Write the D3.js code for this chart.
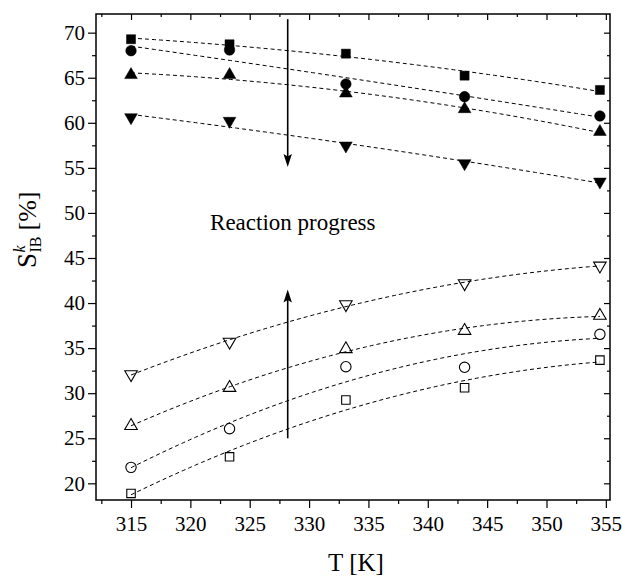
<!DOCTYPE html>
<html>
<head>
<meta charset="utf-8">
<script src="https://cdn.jsdelivr.net/npm/d3@7"></script>
<style>
  html, body { margin: 0; padding: 0; background: #fff; }
  svg { display: block; }
  text { font-family: "Liberation Serif", "Times New Roman", serif; fill: #000; }
</style>
</head>
<body>
<svg id="chart" width="622" height="578"></svg>
<script>
// Temperatures (K)
const temps = [315, 323.3, 333.1, 343.1, 354.5];

// Selectivity S_IB^k (%) — filled symbols (decreasing with T)
const sqFilled = [69.27, 68.71, 67.67, 65.23, 63.64];
const ciFilled = [68.0, 68.08, 64.31, 62.9, 60.76];
const upFilled = [65.31, 65.31, 63.27, 61.53, 59.0];
const dnFilled = [60.6, 60.2, 57.46, 55.5, 53.46];

// Open symbols (increasing with T)
const dnOpen = [32.09, 35.7, 39.86, 42.19, 44.14];
const upOpen = [26.38, 30.6, 34.9, 36.93, 38.6];
const ciOpen = [21.77, 26.06, 32.94, 32.87, 36.53];
const sqOpen = [18.88, 22.94, 29.24, 30.6, 33.67];

// Axis ticks
const xTicks = [315, 320, 325, 330, 335, 340, 345, 350, 355];
const xMinor = [312.5, 317.5, 322.5, 327.5, 332.5, 337.5, 342.5, 347.5, 352.5];
const yTicks = [20, 25, 30, 35, 40, 45, 50, 55, 60, 65, 70];
const yMinor = [22.5, 27.5, 32.5, 37.5, 42.5, 47.5, 52.5, 57.5, 62.5, 67.5];

// Annotation arrows: [T, from, to]
const arrowDown = [328.2, 71.5, 55.1];
const arrowUp = [328.2, 25.0, 41.5];
const noteText = "Reaction progress";
const notePos = [321.66, 48.1];

const series = [
  { values: sqFilled, sym: d3.symbolSquare, size: 82, rot: 0, filled: true },
  { values: ciFilled, sym: d3.symbolCircle, size: 88, rot: 0, filled: true },
  { values: upFilled, sym: d3.symbolTriangle, size: 70, rot: 0, filled: true },
  { values: dnFilled, sym: d3.symbolTriangle, size: 70, rot: 180, filled: true },
  { values: dnOpen, sym: d3.symbolTriangle, size: 68, rot: 180, filled: false },
  { values: upOpen, sym: d3.symbolTriangle, size: 68, rot: 0, filled: false },
  { values: ciOpen, sym: d3.symbolCircle, size: 84, rot: 0, filled: false },
  { values: sqOpen, sym: d3.symbolSquare, size: 72, rot: 0, filled: false }
];

const svg = d3.select("#chart");
const L = 96, R = 610, T = 14, B = 500;

const x = d3.scaleLinear().domain([312.05, 355.35]).range([L, R]);
const y = d3.scaleLinear().domain([18.15, 72.07]).range([B, T]);

// Least-squares quadratic fit for the dashed trend curves
function quadFit(xs, ys) {
  const m = d3.mean(xs);
  const u = xs.map(v => v - m);
  const S = k => d3.sum(u, v => Math.pow(v, k));
  const Sy = k => d3.sum(u, (v, i) => Math.pow(v, k) * ys[i]);
  const A = [[S(0), S(1), S(2)], [S(1), S(2), S(3)], [S(2), S(3), S(4)]];
  const b = [Sy(0), Sy(1), Sy(2)];
  for (let i = 0; i < 3; i++) {
    for (let j = i + 1; j < 3; j++) {
      const f = A[j][i] / A[i][i];
      for (let k = i; k < 3; k++) A[j][k] -= f * A[i][k];
      b[j] -= f * b[i];
    }
  }
  const c = [0, 0, 0];
  for (let i = 2; i >= 0; i--) {
    let s = b[i];
    for (let k = i + 1; k < 3; k++) s -= A[i][k] * c[k];
    c[i] = s / A[i][i];
  }
  return t => c[0] + c[1] * (t - m) + c[2] * (t - m) * (t - m);
}

const g = svg.append("g");

// Fit curves
const line = d3.line().x(d => x(d[0])).y(d => y(d[1]));
series.forEach(s => {
  const f = quadFit(temps, s.values);
  const t0 = temps[0], t1 = temps[temps.length - 1];
  const pts = d3.range(0, 81).map(i => {
    const t = t0 + (t1 - t0) * i / 80;
    return [t, f(t)];
  });
  g.append("path")
    .attr("d", line(pts))
    .attr("fill", "none")
    .attr("stroke", "#000")
    .attr("stroke-width", 1)
    .attr("stroke-dasharray", "4,3");
});

// Markers
series.forEach(s => {
  const sym = d3.symbol().type(s.sym).size(s.size);
  g.selectAll(null)
    .data(temps.map((t, i) => [t, s.values[i]]))
    .join("path")
    .attr("d", sym)
    .attr("transform", d => `translate(${x(d[0])},${y(d[1])}) rotate(${s.rot})`)
    .attr("fill", s.filled ? "#000" : "none")
    .attr("stroke", "#000")
    .attr("stroke-width", s.filled ? 0.5 : 1.1);
});

// Arrows
function arrow(a) {
  const ax = x(a[0]), y0 = y(a[1]), y1 = y(a[2]);
  const dir = y1 > y0 ? 1 : -1;
  const head = 13, hw = 4.2;
  g.append("line")
    .attr("x1", ax).attr("x2", ax)
    .attr("y1", y0).attr("y2", y1 - dir * head * 0.6)
    .attr("stroke", "#000").attr("stroke-width", 1.6);
  g.append("path")
    .attr("d", `M${ax},${y1} L${ax - hw},${y1 - dir * head} L${ax},${y1 - dir * head * 0.8} L${ax + hw},${y1 - dir * head} Z`)
    .attr("fill", "#000");
}
arrow(arrowDown);
arrow(arrowUp);

g.append("text")
  .attr("x", x(notePos[0]))
  .attr("y", y(notePos[1]))
  .attr("font-size", 23)
  .text(noteText);

// Axes
const axG = svg.append("g");
axG.append("g").attr("transform", `translate(0,${B})`)
  .call(d3.axisBottom(x).tickValues(xTicks).tickSize(8).tickSizeOuter(0).tickPadding(8).tickFormat(d3.format("d")));
axG.append("g").attr("transform", `translate(0,${B})`)
  .call(d3.axisBottom(x).tickValues(xMinor.filter(v => v > 312.05)).tickSize(4).tickSizeOuter(0).tickFormat(""));
axG.append("g").attr("transform", `translate(${L},0)`)
  .call(d3.axisLeft(y).tickValues(yTicks).tickSize(8).tickSizeOuter(0).tickPadding(3).tickFormat(d3.format("d")));
axG.append("g").attr("transform", `translate(${L},0)`)
  .call(d3.axisLeft(y).tickValues(yMinor).tickSize(4).tickSizeOuter(0).tickFormat(""));
// Mirrored inward ticks on top and right
axG.append("g").attr("transform", `translate(0,${T})`)
  .call(d3.axisTop(x).tickValues(xTicks).tickSize(-6).tickSizeOuter(0).tickFormat(""));
axG.append("g").attr("transform", `translate(0,${T})`)
  .call(d3.axisTop(x).tickValues(xMinor.filter(v => v > 312.05)).tickSize(-3).tickSizeOuter(0).tickFormat(""));
axG.append("g").attr("transform", `translate(${R},0)`)
  .call(d3.axisRight(y).tickValues(yTicks).tickSize(-6).tickSizeOuter(0).tickFormat(""));
axG.append("g").attr("transform", `translate(${R},0)`)
  .call(d3.axisRight(y).tickValues(yMinor).tickSize(-3).tickSizeOuter(0).tickFormat(""));

axG.selectAll(".domain").remove();
axG.selectAll("g").attr("font-family", null);
axG.selectAll(".tick line").attr("stroke", "#000").attr("stroke-width", 1.2);
axG.selectAll(".tick text")
  .attr("font-size", 21)
  .attr("fill", "#000");

// Frame
svg.append("rect")
  .attr("x", L).attr("y", T)
  .attr("width", R - L).attr("height", B - T)
  .attr("fill", "none").attr("stroke", "#000").attr("stroke-width", 1.5);

// Axis titles
svg.append("text")
  .attr("x", (L + R) / 2 + 3)
  .attr("y", 571)
  .attr("text-anchor", "middle")
  .attr("font-size", 25)
  .text("T [K]");

// Y title: S with stacked superscript k and subscript IB, then [%]
const yt = svg.append("g").attr("transform", "translate(36,268) rotate(-90)");
const sT = yt.append("text").attr("x", 0).attr("y", 0).attr("font-size", 27).text("S");
const sW = sT.node().getComputedTextLength();
const kT = yt.append("text").attr("x", sW + 0.5).attr("y", -11)
  .attr("font-size", 16).attr("font-style", "italic").text("k");
const ibT = yt.append("text").attr("x", sW + 0.5).attr("y", 5)
  .attr("font-size", 16).text("IB");
const w2 = Math.max(kT.node().getComputedTextLength(), ibT.node().getComputedTextLength());
yt.append("text").attr("x", sW + 0.5 + w2 + 6).attr("y", 0)
  .attr("font-size", 26).text("[%]");
</script>
</body>
</html>
